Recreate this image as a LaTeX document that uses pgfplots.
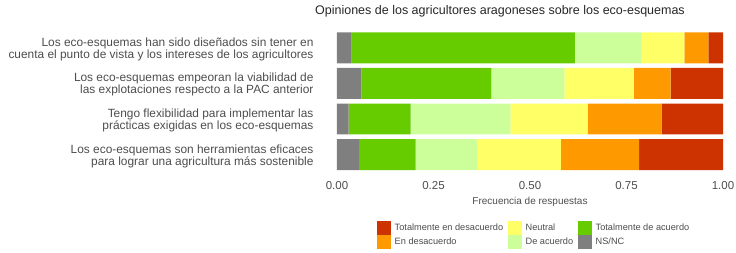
\documentclass[border=0pt]{standalone}
\usepackage{pgfplots}
\pgfplotsset{compat=1.18}
\usepackage{fontspec}
\setmainfont{Liberation Sans}
\definecolor{cNS}{HTML}{7F7F7F}
\definecolor{cTA}{HTML}{66CC00}
\definecolor{cDA}{HTML}{CCFF99}
\definecolor{cN}{HTML}{FFFF66}
\definecolor{cED}{HTML}{FF9900}
\definecolor{cTD}{HTML}{CC3300}
\definecolor{txt}{HTML}{4D4D4D}
\begin{document}
\begin{tikzpicture}
\useasboundingbox (0,0) rectangle (736bp,253bp);
\begin{axis}[
  at={(337bp,80.6bp)}, anchor=south west,
  scale only axis, width=386bp, height=142.4bp,
  xbar stacked, bar width=0.87,
  xmin=0, xmax=1, ymin=-0.5, ymax=3.5, y dir=reverse,
  axis line style={draw=none},
  major tick length=0pt,
  xtick={0,0.25,0.5,0.75,1},
  xticklabels={0.00,0.25,0.50,0.75,1.00},
  ytick={0,1,2,3},
  yticklabels={
    {Los eco-esquemas han sido diseñados sin tener en\\cuenta el punto de vista y los intereses de los agricultores},
    {Los eco-esquemas empeoran la viabilidad de\\las explotaciones respecto a la PAC anterior},
    {Tengo flexibilidad para implementar las\\prácticas exigidas en los eco-esquemas},
    {Los eco-esquemas son herramientas eficaces\\para lograr una agricultura más sostenible}},
  yticklabel style={align=right, font=\fontsize{11.9bp}{12bp}\selectfont, text=txt, xshift=-20bp, yshift=-1.5bp},
  xticklabel style={font=\fontsize{11.5bp}{13bp}\selectfont, text=txt, anchor=base, yshift=-16.9bp},
  xlabel={Frecuencia de respuestas},
  xlabel style={font=\fontsize{10bp}{12bp}\selectfont, text=txt, at={(0.5,0)}, anchor=base, yshift=-31.6bp},
  title={Opiniones de los agricultores aragoneses sobre los eco-esquemas},
  title style={font=\fontsize{12.5bp}{14bp}\selectfont, text=black!85, at={(0.5,1)}, anchor=base, xshift=-30bp, yshift=9.3bp},
  legend columns=3,
  legend cell align=left,
  legend style={draw=none, inner sep=0pt, outer sep=0pt, at={(0.5,0)}, anchor=north, xshift=4bp, yshift=-48.2bp,
    font=\fontsize{9.2bp}{11bp}\selectfont, text=txt,
    /tikz/every even column/.append style={column sep=2.5bp},
    /tikz/every odd column/.append style={column sep=2bp},
    row sep=0.5bp},
  legend image code/.code={\fill[#1] (0bp,-7bp) rectangle (14bp,7bp);},
]
\addplot[fill=cNS, draw=none, forget plot] coordinates {(0.038,0) (0.063,1) (0.030,2) (0.057,3)};
\addplot[fill=cTA, draw=none, forget plot] coordinates {(0.578,0) (0.337,1) (0.161,2) (0.147,3)};
\addplot[fill=cDA, draw=none, forget plot] coordinates {(0.173,0) (0.189,1) (0.258,2) (0.160,3)};
\addplot[fill=cN, draw=none, forget plot] coordinates {(0.111,0) (0.180,1) (0.200,2) (0.216,3)};
\addplot[fill=cED, draw=none, forget plot] coordinates {(0.062,0) (0.095,1) (0.192,2) (0.203,3)};
\addplot[fill=cTD, draw=none, forget plot] coordinates {(0.038,0) (0.136,1) (0.159,2) (0.217,3)};
\addlegendimage{fill=cTD, draw=none}
\addlegendentry{Totalmente en desacuerdo}
\addlegendimage{fill=cN, draw=none}
\addlegendentry{Neutral}
\addlegendimage{fill=cTA, draw=none}
\addlegendentry{Totalmente de acuerdo}
\addlegendimage{fill=cED, draw=none}
\addlegendentry{En desacuerdo}
\addlegendimage{fill=cDA, draw=none}
\addlegendentry{De acuerdo}
\addlegendimage{fill=cNS, draw=none}
\addlegendentry{NS/NC}
\end{axis}
\end{tikzpicture}
\end{document}
